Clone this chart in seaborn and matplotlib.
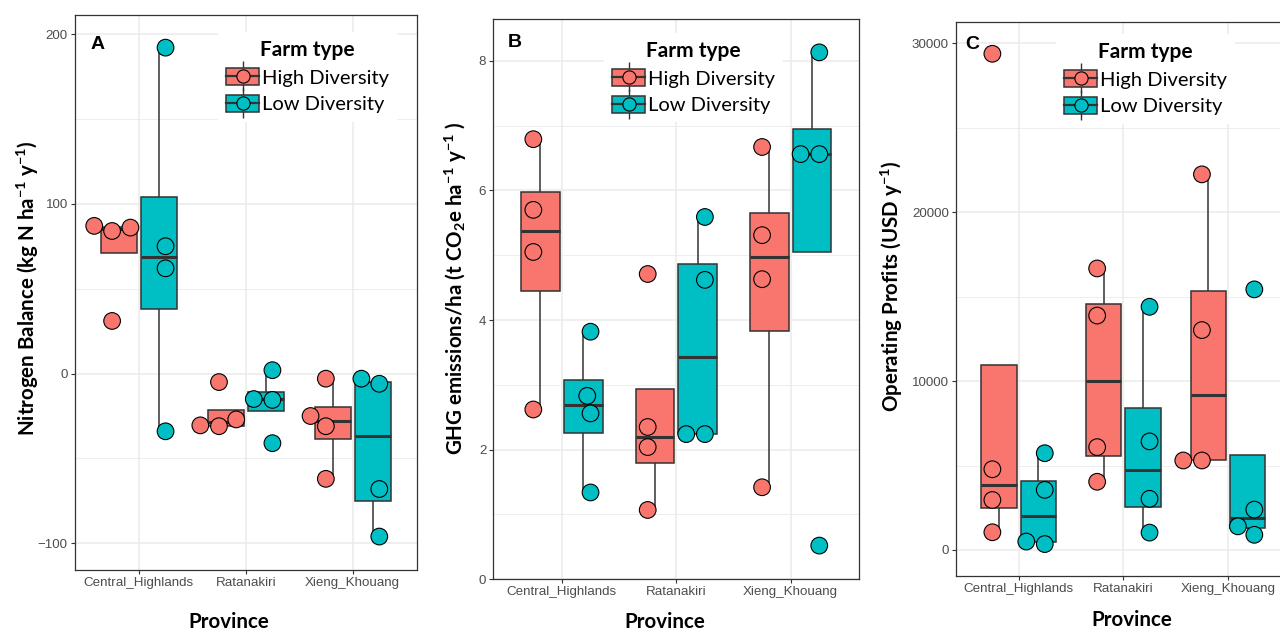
import matplotlib
matplotlib.use("Agg")
import pandas as pd
import seaborn as sns
from matplotlib import pyplot as plt
from matplotlib.legend_handler import HandlerTuple
from matplotlib.lines import Line2D
from matplotlib.patches import Patch
from matplotlib.ticker import MultipleLocator
from matplotlib.transforms import Affine2D

PROVINCES = ["Central_Highlands", "Ratanakiri", "Xieng_Khouang"]
FARM_TYPES = ["High Diversity", "Low Diversity"]
PALETTE = {"High Diversity": "#F8766D", "Low Diversity": "#00BFC4"}

# farm values per province (Central_Highlands, Ratanakiri, Xieng_Khouang)
n_balance_high = [[31, 84, 86, 87], [-31, -30.5, -27, -5], [-62, -31, -25, -3]]
n_balance_low = [[-34, 62, 75, 192], [-41, -15.5, -15, 2], [-96, -68, -6, -3]]
ghg_high = [[2.62, 5.05, 5.70, 6.79], [1.07, 2.04, 2.35, 4.71], [1.42, 4.63, 5.31, 6.67]]
ghg_low = [[1.34, 2.56, 2.83, 3.82], [2.24, 2.24, 4.62, 5.59], [0.52, 6.56, 6.56, 8.13]]
profit_high = [[1050, 2960, 4780, 29380], [4040, 6090, 13880, 16670], [5300, 5300, 13020, 22240]]
profit_low = [[350, 500, 3560, 5730], [1030, 3030, 6430, 14400], [900, 1400, 2390, 15430]]

DARK = "#333333"
GRID = "#EBEBEB"
LABEL_FONT = ["Lato", "DejaVu Sans"]

plt.rcParams["font.family"] = ["Liberation Sans", "DejaVu Sans"]
plt.rcParams["mathtext.fontset"] = "custom"
plt.rcParams["mathtext.rm"] = "Lato:bold"
plt.rcParams["mathtext.it"] = "Lato:bold"
plt.rcParams["mathtext.bf"] = "Lato:bold"
plt.rcParams["mathtext.default"] = "rm"


def long_df(high, low, name):
    rows = []
    for prov, h, l in zip(PROVINCES, high, low):
        rows += [(prov, FARM_TYPES[0], v) for v in h]
        rows += [(prov, FARM_TYPES[1], v) for v in l]
    return pd.DataFrame(rows, columns=["Province", "Farm type", name])


panels = [
    dict(df=long_df(n_balance_high, n_balance_low, "nb"), col="nb",
         ylabel="Nitrogen Balance (kg N ha$^{-1}$ y$^{-1}$)", letter="A",
         ylim=(-115.7, 211.4), major=100, minor=50,
         rect=(74.7, 14.7, 416.7, 570), ylab=(-0.0985, 0.508), xlab=(0.451, -0.1045),
         letter_pos=(0.045, 0.9616), leg=(0.419, 0.969)),
    dict(df=long_df(ghg_high, ghg_low, "ghg"), col="ghg",
         ylabel="GHG emissions/ha (t CO$_{2}$e ha$^{-1}$ y$^{-1}$ )", letter="B",
         ylim=(0.0, 8.64), major=2, minor=1,
         rect=(493.3, 19.3, 859.3, 579.3), ylab=(-0.066, 0.52), xlab=(0.469, -0.087),
         letter_pos=(0.039, 0.974), leg=(0.3025, 0.976)),
    dict(df=long_df(profit_high, profit_low, "op"), col="op",
         ylabel="Operating Profits (USD y$^{-1}$)", letter="C",
         ylim=(-1522, 31279), major=10000, minor=5000,
         rect=(955.7, 21.7, 1291, 575.7), ylab=(-0.15, 0.523), xlab=(0.526, -0.0908),
         letter_pos=(0.028, 0.974), leg=(0.299, 0.978)),
]

W, H = 1280, 632
fig = plt.figure(figsize=(W / 100, H / 100), dpi=100)

for p in panels:
    x0, y0, x1, y1 = p["rect"]
    ax = fig.add_axes([x0 / W, (H - y1) / H, (x1 - x0) / W, (y1 - y0) / H])
    ax.set_axisbelow(True)

    sns.boxplot(data=p["df"], x="Province", y=p["col"], hue="Farm type",
                order=PROVINCES, hue_order=FARM_TYPES, palette=PALETTE,
                saturation=1, width=0.75, gap=0.1, showfliers=False,
                showcaps=False, linecolor=DARK, linewidth=1.1,
                medianprops=dict(linewidth=2.2, color=DARK),
                legend=False, ax=ax)
    sns.swarmplot(data=p["df"], x="Province", y=p["col"], hue="Farm type",
                  order=PROVINCES, hue_order=FARM_TYPES, palette=PALETTE,
                  dodge=True, size=12, edgecolor="black", linewidth=0.8,
                  legend=False, ax=ax, zorder=3, warn_thresh=1)

    # ggplot dotplot dodges a bit wider than the boxes (1.0 vs 0.75)
    for coll in ax.collections:
        fc = coll.get_facecolor()[0]
        is_high = abs(fc[0] - 0xF8 / 255) < 0.05
        shift = -0.05 if is_high else 0.05
        coll.set_offset_transform(Affine2D().translate(shift, 0) + ax.transData)

    ax.set_xlim(-0.6, 2.6)
    ax.set_ylim(*p["ylim"])
    ax.yaxis.set_major_locator(MultipleLocator(p["major"]))
    ax.yaxis.set_minor_locator(MultipleLocator(p["minor"]))
    ax.grid(which="major", color=GRID, linewidth=1.1)
    ax.grid(which="minor", axis="y", color=GRID, linewidth=0.6)
    ax.tick_params(which="major", length=3, width=0.8, color=DARK,
                   labelsize=9.6, labelcolor="#4D4D4D", pad=2)
    ax.tick_params(which="minor", length=0)
    for s in ax.spines.values():
        s.set_color(DARK)
        s.set_linewidth(0.9)

    ax.set_xlabel("Province", fontsize=14.8, fontweight="bold", family=LABEL_FONT)
    ax.set_ylabel(p["ylabel"], fontsize=14.8, fontweight="bold", family=LABEL_FONT)
    ax.xaxis.label.set_verticalalignment("baseline")
    ax.xaxis.set_label_coords(*p["xlab"])
    ax.yaxis.set_label_coords(*p["ylab"])

    ax.text(*p["letter_pos"], p["letter"], transform=ax.transAxes, ha="left",
            va="top", fontsize=14, fontweight="bold")

    handles = []
    for ft in FARM_TYPES:
        whisker = Line2D([], [], marker="|", markersize=21, markeredgewidth=1.0,
                         color=DARK, linestyle="none")
        box = Patch(facecolor=PALETTE[ft], edgecolor=DARK, linewidth=1.1)
        dot = Line2D([], [], color=DARK, linewidth=1.6, marker="o", markersize=9.5,
                     markerfacecolor=PALETTE[ft], markeredgecolor="black",
                     markeredgewidth=0.8)
        handles.append((whisker, box, dot))
    leg = ax.legend(handles, FARM_TYPES, title="Farm type", loc="upper left",
                    bbox_to_anchor=p["leg"], borderaxespad=0, borderpad=0.4,
                    handler_map={tuple: HandlerTuple(ndivide=1, pad=0)},
                    handlelength=1.65, handleheight=0.9, handletextpad=0.15,
                    labelspacing=0.42, frameon=True, fancybox=False,
                    framealpha=1, edgecolor="none",
                    prop=dict(family=LABEL_FONT, size=14.5),
                    title_fontproperties=dict(family=LABEL_FONT, size=15,
                                              weight="bold"))
    leg.get_frame().set_linewidth(0)

fig.savefig("out.png", dpi=100)
